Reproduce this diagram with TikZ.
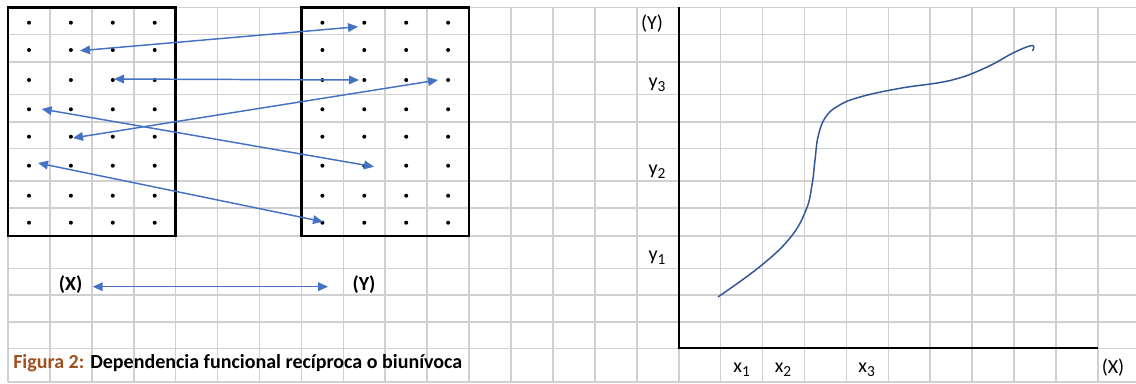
\documentclass[tikz,border=0pt]{standalone}
\usepackage{fontspec}
\setmainfont{Carlito}
\usetikzlibrary{arrows.meta}
\definecolor{gridgray}{HTML}{D0D0D0}
\definecolor{arrowblue}{HTML}{4472C4}
\definecolor{curveblue}{HTML}{2F5597}
\definecolor{capbrown}{HTML}{A0501E}
\newcommand{\sub}[1]{\raisebox{-3pt}{\fontsize{11.5}{12}\selectfont #1}}
\begin{document}
\begin{tikzpicture}[x=0.75pt,y=-0.75pt,
  gridline/.style={draw=gridgray,line width=1.2pt},
  boxline/.style={draw=black,line width=2.2pt},
  axisline/.style={draw=black,line width=1.5pt},
  dotmark/.style={circle,fill=black,inner sep=0pt,minimum size=3pt},
  link/.style={draw=arrowblue,line width=1.1pt,{Triangle[length=7.5pt,width=6.5pt]}-{Triangle[length=7.5pt,width=6.5pt]}},
  lbl/.style={inner sep=0pt,anchor=base,font=\fontsize{15}{17}\selectfont},
  blbl/.style={lbl,font=\fontsize{15}{17}\selectfont\bfseries}
]
\useasboundingbox (0,0) rectangle (1136,383);
% grid
\foreach \k in {0,...,26} \draw[gridline] ({8+41.92*\k},7.3) -- ({8+41.92*\k},381.7);
\foreach \y in {7.3,34.3,61.7,94.3,121.7,148.3,181,207.7,236,268.3,295,321.7,348.3,381.7}
  \draw[gridline] (8,\y) -- (1136,\y);
% boxes
\draw[boxline] (8,7.3) rectangle (175.7,236);
\draw[boxline] (301.5,7.3) rectangle (469,236);
% dots
\foreach \r/\yy in {1/22.7,2/50,3/80,4/109.3,5/136.7,6/165.7,7/195.7,8/222.7}{
  \foreach \c/\xl/\xr in {1/29/322.4,2/70.9/364.3,3/112.8/406.2,4/154.7/448.1}{
    \node[dotmark] (L-\r-\c) at (\xl,\yy) {};
    \node[dotmark] (R-\r-\c) at (\xr,\yy) {};
  }
}
% arrow end points
\coordinate (p1) at (80,50.7);   \coordinate (q1) at (358,26.7);
\coordinate (p2) at (114,79);    \coordinate (q2) at (359,80);
\coordinate (p3) at (41.7,109);  \coordinate (q3) at (374,166.7);
\coordinate (p4) at (73,138);    \coordinate (q4) at (438,80);
\coordinate (p5) at (38,163);    \coordinate (q5) at (323,221.7);
\draw[link] (p1) -- (q1);
\draw[link] (p2) -- (q2);
\draw[link] (p3) -- (q3);
\draw[link] (p4) -- (q4);
\draw[link] (p5) -- (q5);
% bottom labels
\node[blbl] (X) at (70.7,290) {(X)};
\node[blbl] (Y) at (364,290) {(Y)};
\coordinate (bx) at (92.7,286.7); \coordinate (by) at (328,286.7);
\draw[link] (bx) -- (by);
% caption
\node[lbl,anchor=base west,font=\fontsize{15}{17}\selectfont\bfseries] (cap) at (13,368)
  {{\color{capbrown}Figura 2:} Dependencia funcional recíproca o biunívoca};
% axes
\coordinate (O) at (678.8,348.3);
\coordinate (Ytop) at (678.8,7.3);
\coordinate (Xend) at (1098,348.3);
\draw[axisline] (Ytop) -- (O) -- (Xend);
% axis labels
\node[lbl] (Ylab) at (652,29) {(Y)};
\node[lbl] (y3) at (657,87.5) {y\sub{3}};
\node[lbl] (y2) at (657,174) {y\sub{2}};
\node[lbl] (y1) at (657,260.5) {y\sub{1}};
\node[lbl] (x1) at (741.7,372) {x\sub{1}};
\node[lbl] (x2) at (783,372) {x\sub{2}};
\node[lbl] (x3) at (866.7,372) {x\sub{3}};
\node[lbl] (Xlab) at (1113,373) {(X)};
% curve
\draw[curveblue,line width=1.1pt,line cap=round,line join=round] plot[smooth,tension=0.7] coordinates {
 (718.3,296.7) (760,266.5) (790,238) (806,210) (812,185) (815,160) (818,137) (825,118)
 (838,106) (860,97) (900,88.3) (950,80.5) (985,68) (1013,53) (1030.5,45.8) (1033.8,47.6) (1032.6,50.5)};
\end{tikzpicture}
\end{document}
